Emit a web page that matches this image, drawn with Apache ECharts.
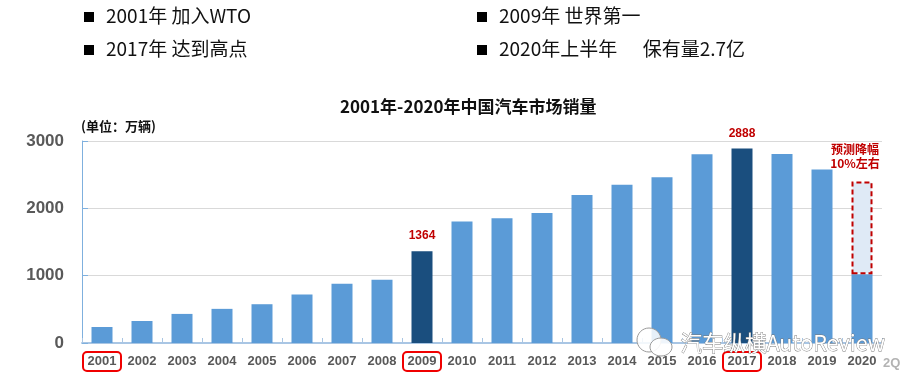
<!DOCTYPE html>
<html>
<head>
<meta charset="utf-8">
<style>
  html, body { margin: 0; padding: 0; background: #fff; }
  #chart { width: 915px; height: 386px; }
</style>
<script src="https://cdn.jsdelivr.net/npm/echarts@6/dist/echarts.min.js"></script>
</head>
<body>
<div id="chart"></div>
<script>
const years = ['2001','2002','2003','2004','2005','2006','2007','2008','2009','2010','2011','2012','2013','2014','2015','2016','2017','2018','2019','2020'];
const sales = [238,327,432,507,576,722,879,938,1364,1806,1851,1931,2198,2349,2460,2803,2888,2808,2577,1020];
const forecastGap = [null,null,null,null,null,null,null,null,null,null,null,null,null,null,null,null,null,null,null,1380];
const darkYears = ['2009','2017'];
const labelledYears = ['2009','2017'];
const boxedYears = ['2001','2009','2017'];
const notes = ['2001年 加入WTO','2009年 世界第一','2017年 达到高点','2020年上半年      保有量2.7亿'];

const cjk = '"Noto Sans CJK SC", "Liberation Sans", sans-serif';
const sans = '"Liberation Sans", "Noto Sans CJK SC", sans-serif';

function noteText(i) {
  const left = i % 2 === 0 ? 84 : 477;
  const mid = i < 2 ? 17 : 50;
  return [
    { type: 'rect', left: left, top: mid - 5, shape: { width: 10, height: 10 }, style: { fill: '#000' } },
    { type: 'text', left: left + 22, top: mid - 11, style: { text: notes[i], font: '19px ' + cjk, fill: '#111' } }
  ];
}

const chart = echarts.init(document.getElementById('chart'), null, { renderer: 'canvas' });

const yearLabel = { color: '#595959', fontFamily: sans, fontSize: 13, fontWeight: 'bold', width: 38, height: 19, align: 'center' };

chart.setOption({
  animation: false,
  backgroundColor: '#fff',
  grid: { left: 82, right: 33, top: 141, bottom: 43 },
  title: {
    text: '2001年-2020年中国汽车市场销量',
    left: 335,
    top: 93,
    textStyle: { fontFamily: cjk, fontSize: 17, fontWeight: 'bold', color: '#111' }
  },
  xAxis: {
    type: 'category',
    data: years,
    axisLine: { lineStyle: { color: '#a9c6e4', width: 2 } },
    axisTick: { show: true, inside: true, length: 5, lineStyle: { color: '#a9c6e4' } },
    axisLabel: {
      interval: 0,
      margin: 9,
      formatter: v => (boxedYears.includes(v) ? '{box|' : '{plain|') + v + '}',
      rich: {
        plain: yearLabel,
        box: { ...yearLabel, borderColor: '#f00000', borderWidth: 2, borderRadius: 4 }
      }
    }
  },
  yAxis: {
    type: 'value',
    min: 0,
    max: 3000,
    interval: 1000,
    axisLine: { show: true, lineStyle: { color: '#7fb0de', width: 1 } },
    axisTick: { show: true, inside: true, length: 6, lineStyle: { color: '#7fb0de' } },
    axisLabel: {
      margin: 18,
      color: '#595959',
      fontFamily: sans,
      fontSize: 17,
      fontWeight: 'bold',
      formatter: v => String(v)
    },
    splitLine: { lineStyle: { color: '#d9d9d9', width: 1 } }
  },
  series: [
    {
      type: 'bar',
      stack: 'sales',
      barWidth: 21,
      data: sales.map((v, i) => ({
        value: v,
        itemStyle: { color: darkYears.includes(years[i]) ? '#1a4e7e' : '#5b9bd7' },
        label: labelledYears.includes(years[i])
          ? { show: true, position: 'top', distance: 9, formatter: '{c}', color: '#c00000', fontFamily: sans, fontSize: 12, fontWeight: 'bold' }
          : { show: false }
      }))
    },
    {
      type: 'bar',
      stack: 'sales',
      barWidth: 21,
      itemStyle: { color: '#dfeaf6', borderColor: '#c00000', borderWidth: 2, borderType: [5, 3] },
      data: forecastGap,
      label: {
        show: true,
        position: 'top',
        distance: 11,
        offset: [-7, 0],
        formatter: p => p.value ? '预测降幅\n10%左右' : '',
        color: '#c00000',
        fontFamily: cjk,
        fontSize: 12,
        fontWeight: 'bold',
        lineHeight: 14
      }
    }
  ],
  graphic: [
    ...notes.flatMap((n, i) => noteText(i)),
    { type: 'text', left: 81, top: 120, style: { text: '(单位：万辆)', font: 'bold 13px ' + cjk, fill: '#111' } },
    { type: 'text', left: 883, top: 357, style: { text: '2Q', font: 'bold 13px ' + sans, fill: '#b3b3b3' } },
    // watermark sits over the bars
    { type: 'ellipse', z: 100, shape: { cx: 649, cy: 340, rx: 12, ry: 12 }, style: { fill: 'rgba(255,255,255,0.85)', stroke: '#9a9a9a', lineWidth: 1 } },
    { type: 'ellipse', z: 101, shape: { cx: 661, cy: 347, rx: 11, ry: 9 }, style: { fill: 'rgba(255,255,255,0.9)', stroke: '#9a9a9a', lineWidth: 1 } },
    { type: 'text', z: 102, left: 680, top: 332, style: { text: '汽车纵横AutoReview', font: '21.5px ' + cjk, fill: '#fff', stroke: '#777', lineWidth: 0.8 } }
  ]
});
</script>
</body>
</html>
